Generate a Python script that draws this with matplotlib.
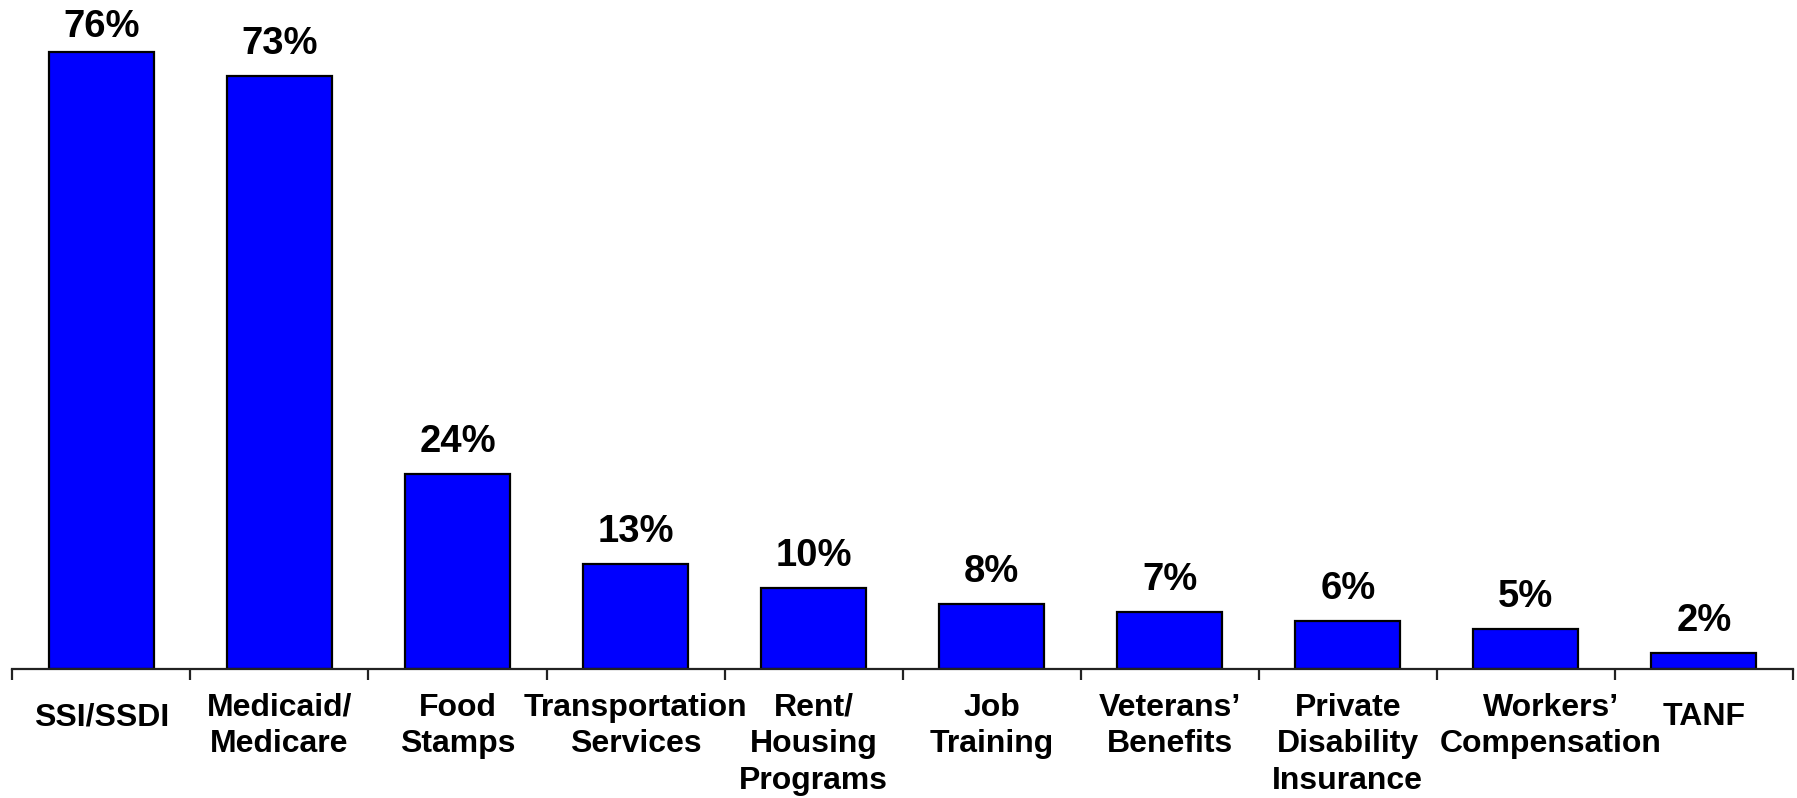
import matplotlib
matplotlib.use("Agg")
import matplotlib.pyplot as plt
import matplotlib.transforms as mtransforms
import numpy as np

categories = ["SSI/SSDI", "Medicaid/\nMedicare", "Food\nStamps", "Transportation\nServices",
              "Rent/\nHousing\nPrograms", "Job\nTraining", "Veterans\u2019\nBenefits",
              "Private\nDisability\nInsurance", "Workers\u2019\nCompensation", "TANF"]
values = [76, 73, 24, 13, 10, 8, 7, 6, 5, 2]
value_labels = ["76%", "73%", "24%", "13%", "10%", "8%", "7%", "6%", "5%", "2%"]

plt.rcParams['font.family'] = ['Liberation Sans', 'DejaVu Sans']

W, H = 1797, 798
fig = plt.figure(figsize=(W / 100, H / 100), dpi=100)
ax_bottom_px = 669.3
ax = fig.add_axes([12.3 / W, 1 - ax_bottom_px / H, (1793 - 12.3) / W, ax_bottom_px / H])

ymax = 82.37
x = np.arange(len(values))
ax.bar(x, values, width=0.59, color="#0000FF", edgecolor="black", linewidth=1.6, zorder=2)
ax.set_xlim(-0.5, len(values) - 0.5)
ax.set_ylim(0, ymax)

px_per_unit = ax_bottom_px / ymax
offset = 22 / px_per_unit
cap = 77.8
for xi, v, lab in zip(x, values, value_labels):
    y = min(v + offset, cap)
    ax.text(xi, y, lab, ha="center", va="baseline", fontsize=27.5, fontweight="bold", color="black")

for s in ["top", "right", "left"]:
    ax.spines[s].set_visible(False)
ax.spines["bottom"].set_linewidth(1.6)
ax.spines["bottom"].set_color("#222222")
ax.set_yticks([])

ax.set_xticks([])
ax.set_xticks(np.arange(-0.5, len(values), 1.0), minor=True)
ax.tick_params(axis="x", which="minor", length=10.5 * 0.72, width=1.6, color="#222222",
               direction="out", labelbottom=False)

# category labels, one text per line, placed in pixel offsets below the axis
base = mtransforms.blended_transform_factory(ax.transData, ax.transAxes)
line_pitch = 36.7
for xi, lab in zip(x, categories):
    lines = lab.split("\n")
    first = 56.0 if len(lines) == 1 else 46.5
    dx_px = 25 if lab.startswith("Workers") else 0
    for i, line in enumerate(lines):
        dy_px = -(first + i * line_pitch)
        tr = base + mtransforms.ScaledTranslation(dx_px / 100, dy_px / 100, fig.dpi_scale_trans)
        ax.text(xi, 0, line, transform=tr, ha="center", va="baseline",
                fontsize=23, fontweight="bold", color="black")

fig.savefig("out.png", dpi=100)
